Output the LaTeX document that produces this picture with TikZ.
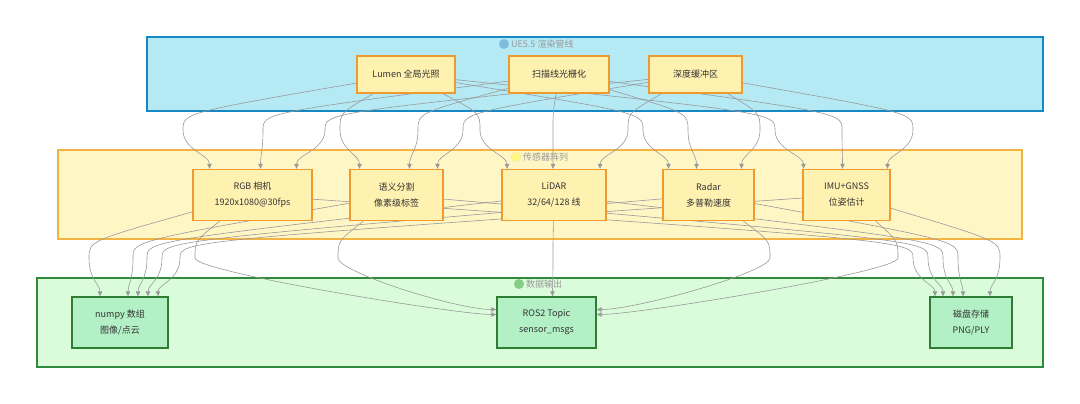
\documentclass[tikz,border=0pt]{standalone}
\usepackage{fontspec}
\setmainfont{Noto Sans CJK SC}
\usetikzlibrary{arrows.meta,calc}
\pgfdeclarelayer{bg}
\pgfdeclarelayer{wires}
\pgfsetlayers{bg,wires,main}
\definecolor{enginefill}{HTML}{B5EAF5}
\definecolor{engineline}{HTML}{1688C4}
\definecolor{sensorfill}{HTML}{FFF6C6}
\definecolor{sensorline}{HTML}{F5B342}
\definecolor{outfill}{HTML}{DAFCDA}
\definecolor{dataline}{HTML}{2F8A3C}
\definecolor{boxfill}{HTML}{FFF1B0}
\definecolor{boxline}{HTML}{EE9A2E}
\definecolor{greenbox}{HTML}{B3F0C6}
\definecolor{greenline}{HTML}{2E7D32}
\begin{document}
\begin{tikzpicture}[x=1pt,y=-1pt,
  stage/.style={draw=boxline,fill=boxfill,line width=1.4pt,inner sep=0pt,align=center,text=black!80,font=\fontsize{9}{16}\selectfont},
  sink/.style={stage,draw=greenline,fill=greenbox},
  wire/.style={draw=black!40,line width=0.6pt,-{Triangle[length=5pt,width=4.5pt]}},
  tag/.style={anchor=west,inner sep=0pt,text=black!40,font=\fontsize{9}{10}\selectfont}]
\useasboundingbox (0,0) rectangle (1080,404);
\begin{pgfonlayer}{bg}
\fill[white] (0,0) rectangle (1080,404);
\draw[engineline,fill=enginefill,line width=2.6pt] (147,37) rectangle (1043,111);
\draw[sensorline,fill=sensorfill,line width=2.4pt] (58,150) rectangle (1022,239);
\draw[dataline,fill=outfill,line width=2.4pt] (37,278) rectangle (1043,367);
\fill[engineline!55] (504,44) circle (5pt);
\node[tag] (enginetag) at (511,44) {UE5.5 渲染管线};
\filldraw[fill=yellow!50,draw=sensorline!40] (516,157) circle (5pt);
\node[tag] (sensortag) at (523,157) {传感器阵列};
\fill[green!35!white!80!black] (519,284) circle (5pt);
\node[tag] (datatag) at (526,284) {数据输出};
\end{pgfonlayer}

\node[stage,minimum width=98pt,minimum height=37pt] (lumen) at (406,74.5) {Lumen 全局光照};
\node[stage,minimum width=100pt,minimum height=37pt] (scan) at (559,74.5) {扫描线光栅化};
\node[stage,minimum width=93pt,minimum height=37pt] (depth) at (695.5,74.5) {深度缓冲区};

\node[stage,minimum width=119pt,minimum height=51pt] (rgb) at (252.5,195) {RGB 相机\\1920x1080@30fps};
\node[stage,minimum width=93pt,minimum height=51pt] (sem) at (396.5,195) {语义分割\\像素级标签};
\node[stage,minimum width=104pt,minimum height=51pt] (lidar) at (554,195) {LiDAR\\32/64/128 线};
\node[stage,minimum width=91pt,minimum height=51pt] (radar) at (708.5,195) {Radar\\多普勒速度};
\node[stage,minimum width=87pt,minimum height=51pt] (imu) at (846.5,195) {IMU+GNSS\\位姿估计};

\node[sink,minimum width=96pt,minimum height=51pt] (numpy) at (120,322.5) {numpy 数组\\图像/点云};
\node[sink,minimum width=99pt,minimum height=51pt] (ros) at (546.5,322.5) {ROS2 Topic\\sensor\_msgs};
\node[sink,minimum width=82pt,minimum height=51pt] (disk) at (971,322.5) {磁盘存储\\PNG/PLY};

\begin{pgfonlayer}{wires}
\foreach \s/\l/\t/\d in {lumen/183/rgb/-43, scan/263/rgb/8, depth/325/rgb/44,
    lumen/340/sem/-37, scan/418/sem/13, depth/463/sem/41,
    lumen/480/lidar/-47, scan/553/lidar/-1, depth/628/lidar/46,
    lumen/643/radar/-40, scan/688/radar/-12, depth/760/radar/33,
    lumen/775/imu/-43, scan/842/imu/-4, depth/913/imu/41}
  \draw[wire] (\s) .. controls (\l,113) .. (\l,130) .. controls (\l,150) and ($(\t.north)+(\d,-14)$) .. ($(\t.north)+(\d,0)$);
\foreach \s/\l/\t/\d in {rgb/89/numpy/-20, sem/133/numpy/8, lidar/147/numpy/18, radar/162/numpy/28, imu/180/numpy/38,
    rgb/913/disk/-36, sem/928/disk/-28, lidar/943/disk/-18, radar/958/disk/-8, imu/1000/disk/19,
    lidar/553/ros/6}
  \draw[wire] (\s) .. controls (\l,241) .. (\l,258) .. controls (\l,280) and ($(\t.north)+(\d,-12)$) .. ($(\t.north)+(\d,0)$);
\foreach \s/\l/\a/\sx/\dy in {rgb/195/west/-40/-8, sem/338/west/-40/-13, radar/770/east/40/-13, imu/898/east/40/-8}
  \draw[wire] (\s) .. controls (\l,241) .. (\l,258) .. controls (\l,272) and ($(ros.\a)+(\sx,\dy)$) .. ($(ros.\a)+(0,\dy)$);
\end{pgfonlayer}
\end{tikzpicture}
\end{document}
